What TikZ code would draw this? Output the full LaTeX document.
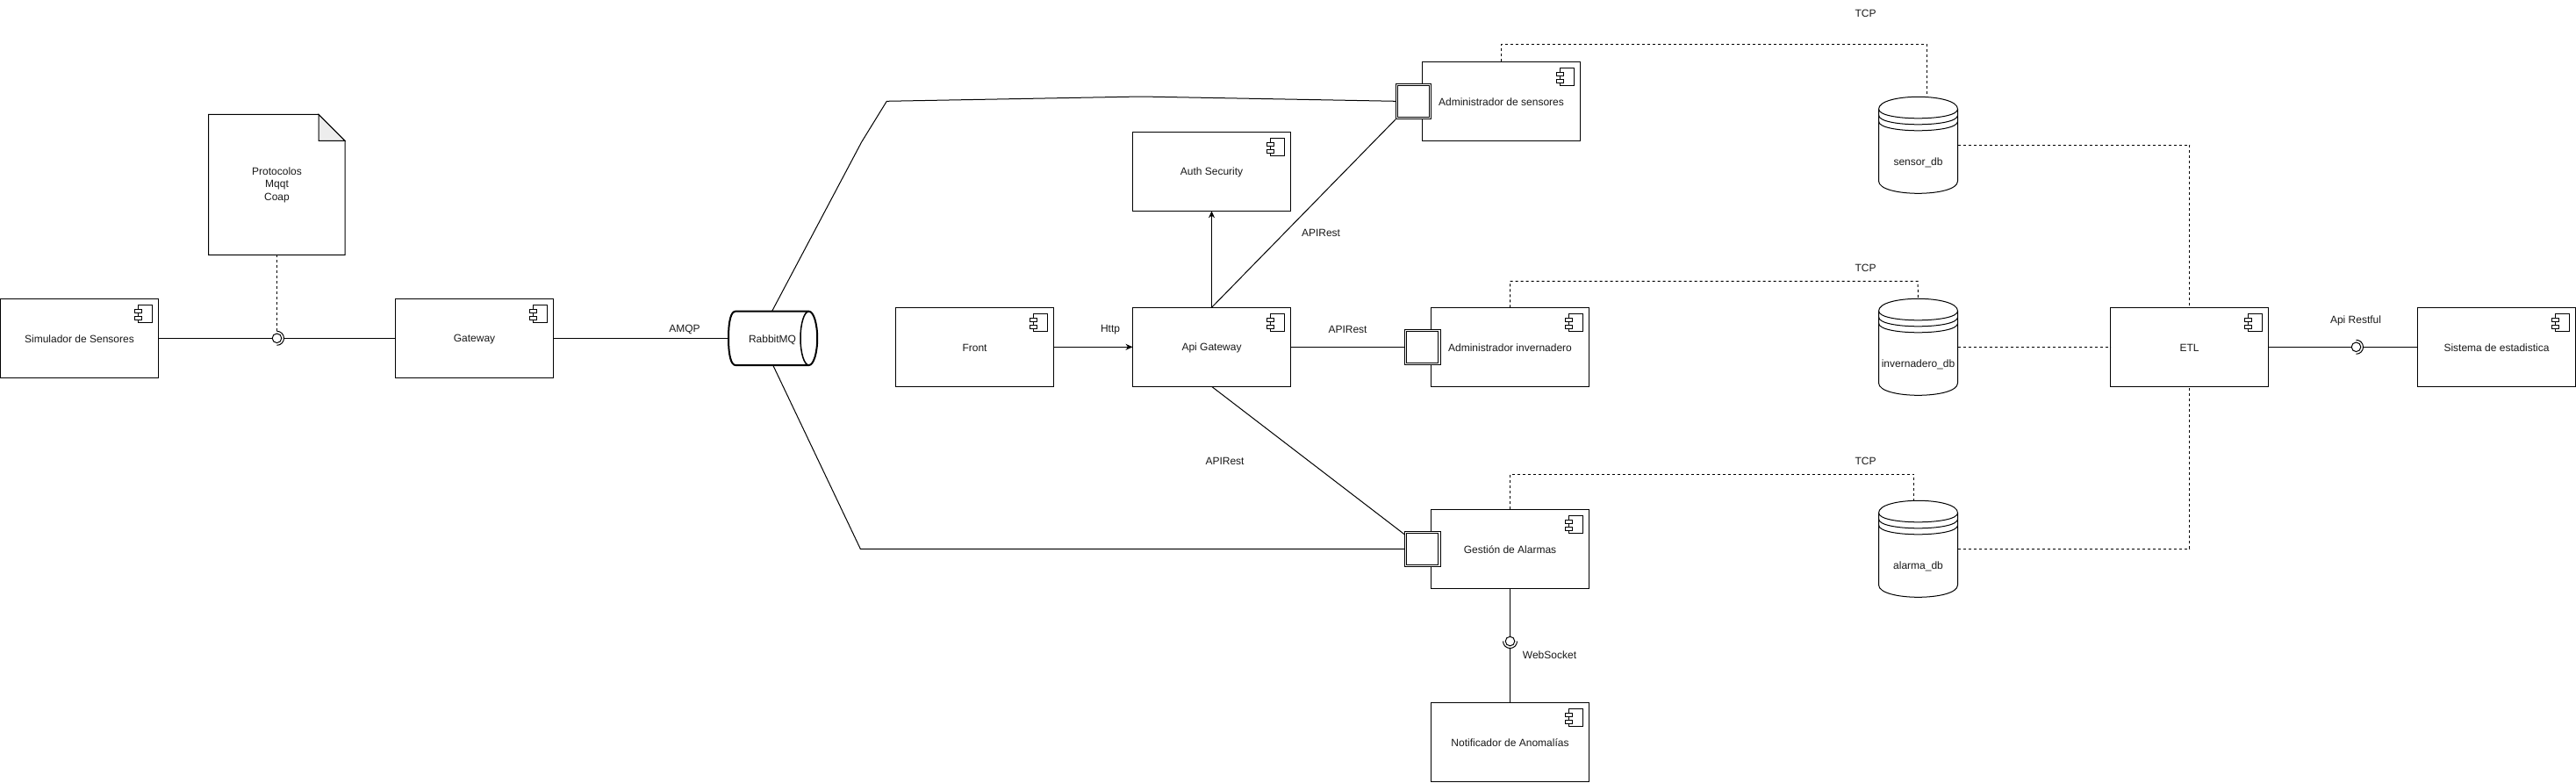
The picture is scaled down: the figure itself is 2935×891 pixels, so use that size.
\documentclass[tikz,border=0pt]{standalone}
\usepackage{fontspec}
\setmainfont{Liberation Sans}
\usetikzlibrary{arrows.meta}
\tikzset{
  x=1pt,y=-1pt,
  lbl/.style={font=\fontsize{12}{14.5}\selectfont,text=black!90,inner sep=0pt,outer sep=0pt,align=center,yshift=-0.8pt},
  box/.style={draw=black,line width=1pt,fill=white,outer sep=0pt},
  wire/.style={draw=black,line width=1pt},
  dashwire/.style={draw=black,line width=1pt,dash pattern=on 3pt off 3pt},
  tip/.style={-{Stealth[length=8pt,width=7pt]}},
}
\newcommand{\comp}[6]{% name x1 y1 x2 y2 text
  \node[box,minimum width=#4pt-#2pt,minimum height=#5pt-#3pt,inner sep=0pt,anchor=north west] (#1) at (#2,#3) {};
  \draw[line width=1pt,fill=white] (#4-23,#3+7) rectangle (#4-7,#3+27);
  \draw[line width=1pt,fill=white] (#4-27,#3+12) rectangle (#4-19,#3+16);
  \draw[line width=1pt,fill=white] (#4-27,#3+20) rectangle (#4-19,#3+24);
  \node[lbl] (#1t) at (#2/2+#4/2,#3/2+#5/2) {#6};
}
\newcommand{\dbase}[7]{% name x y w h text texty
  \coordinate (#1top) at (#2+#4/2,#3);
  \coordinate (#1e) at (#2+#4,#3+#5/2);
  \draw[line width=1pt,fill=white] (#2,#3+14) .. controls (#2,#3-4.67) and (#2+#4,#3-4.67) .. (#2+#4,#3+14)
    -- (#2+#4,#3+#5-14) .. controls (#2+#4,#3+#5+4.67) and (#2,#3+#5+4.67) .. (#2,#3+#5-14) -- cycle;
  \draw[line width=1pt] (#2,#3+14) .. controls (#2,#3+28) and (#2+#4,#3+28) .. (#2+#4,#3+14);
  \draw[line width=1pt] (#2,#3+21) .. controls (#2,#3+35) and (#2+#4,#3+35) .. (#2+#4,#3+21);
  \draw[line width=1pt] (#2,#3+28) .. controls (#2,#3+42) and (#2+#4,#3+42) .. (#2+#4,#3+28);
  \node[lbl] (#1t) at (#2+#4/2,#7) {#6};
}
\begin{document}
\begin{tikzpicture}
\useasboundingbox (0,0) rectangle (2935,891);
\fill[white] (0,0) rectangle (2935,891);

% named free points
\coordinate (rabN) at (879.5,354.7);
\coordinate (rabS) at (880.7,416);
\coordinate (rabW) at (830,385.3);
\coordinate (bendA) at (981.7,161.7);
\coordinate (bendB) at (1010.3,115.3);
\coordinate (bendC) at (1300,110);
\coordinate (bendD) at (980.3,625.3);
\coordinate (p1w) at (1590,115.3);
\coordinate (p1s) at (1590,136);
\coordinate (p2w) at (1600.5,395.3);
\coordinate (p3w) at (1600.5,625.3);
\coordinate (p3n) at (1600.5,609);

\draw[wire] (rabN) -- (bendA) -- (bendB) -- (bendC) -- (p1w);
\draw[wire] (rabS) -- (bendD) -- (p3w);

\comp{sim}{0.5}{340.3}{180.5}{430.3}{Simulador de Sensores}
\comp{gw}{450.5}{340.3}{630.5}{430.3}{Gateway}
\comp{front}{1020.5}{350.3}{1200.5}{440.3}{Front}
\comp{api}{1290.5}{350.3}{1470.5}{440.3}{Api Gateway}
\comp{auth}{1290.5}{150.3}{1470.5}{240.3}{Auth Security}
\comp{as}{1620.5}{70.3}{1800.5}{160.3}{Administrador de sensores}
\comp{ai}{1630.5}{350.3}{1810.5}{440.3}{Administrador invernadero}
\comp{ga}{1630.5}{580.3}{1810.5}{670.3}{Gestión de Alarmas}
\comp{na}{1630.5}{800.3}{1810.5}{890.3}{Notificador de Anomalías}
\comp{etl}{2404.5}{350.3}{2584.5}{440.3}{ETL}
\comp{se}{2754.5}{350.3}{2934.5}{440.3}{Sistema de estadistica}

\draw[wire] (api.north) -- (p1s);
\draw[wire] (api.south) -- (p3n);

% ports
\foreach \x/\y in {1590/95.3,1600.5/375.3,1600.5/605.3}{
  \draw[line width=1pt,fill=white] (\x,\y) rectangle (\x+40.5,\y+40);
  \draw[line width=1pt] (\x+2.2,\y+2.2) rectangle (\x+38.3,\y+37.8);
}

% note
\coordinate (docb) at (315.5,290.3);
\draw[line width=1pt,fill=white] (237.5,130.3) -- (363,130.3) -- (393,160.3) -- (393,290.3) -- (237.5,290.3) -- cycle;
\draw[line width=1pt,fill=black!7] (363,130.3) -- (393,160.3) -- (363,160.3) -- cycle;
\node[lbl] (doct) at (315.5,210) {Protocolos\\Mqqt\\Coap};

% rabbit
\draw[line width=2pt,fill=white] (838,354.7) -- (921.6,354.7) arc[start angle=90,end angle=-90,x radius=9.6pt,y radius=30.65pt] -- (838,416)
  .. controls (833,416) and (830,405) .. (830,385.3) .. controls (830,365) and (833,354.7) .. (838,354.7) -- cycle;
\draw[line width=1.5pt] (921.6,354.7) arc[start angle=90,end angle=270,x radius=9.6pt,y radius=30.65pt];
\node[lbl] (rabt) at (880,386) {RabbitMQ};

% databases
\dbase{sdb}{2140.5}{110.3}{90}{110}{sensor\_db}{184.5}
\dbase{idb}{2140.5}{340.3}{90}{110}{invernadero\_db}{415}
\dbase{adb}{2140.5}{570.3}{90}{110}{alarma\_db}{644.5}

% interfaces
\coordinate (if1w) at (310.3,385.3);
\coordinate (if1e) at (323.7,385.3);
\coordinate (if1n) at (315.5,377.3);
\coordinate (if2n) at (1720.5,725.2);
\coordinate (if2s) at (1720.5,738.5);
\coordinate (if3w) at (2679.2,395.3);
\coordinate (if3e) at (2692.5,395.3);
\draw[line width=1pt] (315.5,385.3) circle[radius=5.3pt];
\draw[line width=1pt] (if1n) arc[start angle=90,end angle=-90,radius=8pt];
\draw[line width=1pt] (2684.5,395.3) circle[radius=5.3pt];
\draw[line width=1pt] (2684.5,387.3) arc[start angle=90,end angle=-90,radius=8pt];
\draw[line width=1pt] (1720.5,730.5) circle[radius=5.3pt];
\draw[line width=1pt] (1712.5,730.5) arc[start angle=180,end angle=360,radius=8pt];

% plain wires
\draw[wire] (sim.east) -- (if1w);
\draw[wire] (gw.west) -- (if1e);
\draw[wire] (gw.east) -- (rabW);
\draw[wire,tip] (front.east) -- (api.west);
\draw[wire,tip] (api.north) -- (auth.south);
\draw[wire] (api.east) -- (p2w);
\draw[wire] (ga.south) -- (if2n);
\draw[wire] (na.north) -- (if2s);
\draw[wire] (etl.east) -- (if3w);
\draw[wire] (se.west) -- (if3e);

% dashed
\coordinate (c1a) at (1710.5,50.3);
\coordinate (c1b) at (2195,50.3);
\coordinate (c1c) at (2195,110.3);
\coordinate (c2a) at (1720.5,320.3);
\coordinate (c2b) at (2185,320.3);
\coordinate (c3a) at (1720.5,540.3);
\coordinate (c3b) at (2180.5,540.3);
\coordinate (c3c) at (2180.5,570.3);
\coordinate (c4) at (2494.5,165.3);
\coordinate (c5) at (2494.5,625.3);
\draw[dashwire] (docb) -- (if1n);
\draw[dashwire] (as.north) -- (c1a) -- (c1b) -- (c1c);
\draw[dashwire] (ai.north) -- (c2a) -- (c2b) -- (idbtop);
\draw[dashwire] (ga.north) -- (c3a) -- (c3b) -- (c3c);
\draw[dashwire] (sdbe) -- (c4) -- (etl.north);
\draw[dashwire] (idbe) -- (etl.west);
\draw[dashwire] (adbe) -- (c5) -- (etl.south);

% labels
\node[lbl] (l1) at (780,375) {AMQP};
\node[lbl] (l2) at (1265,375) {Http};
\node[lbl] (l3) at (1535.5,375) {APIRest};
\node[lbl] (l4) at (1395.5,525) {APIRest};
\node[lbl] (l5) at (1505,265) {APIRest};
\node[lbl] (l6) at (2125.5,15) {TCP};
\node[lbl] (l7) at (2125.5,305) {TCP};
\node[lbl] (l8) at (2125.5,525) {TCP};
\node[lbl] (l9) at (1765.5,745) {WebSocket};
\node[lbl] (l10) at (2684,365) {Api Restful};
\end{tikzpicture}
\end{document}
